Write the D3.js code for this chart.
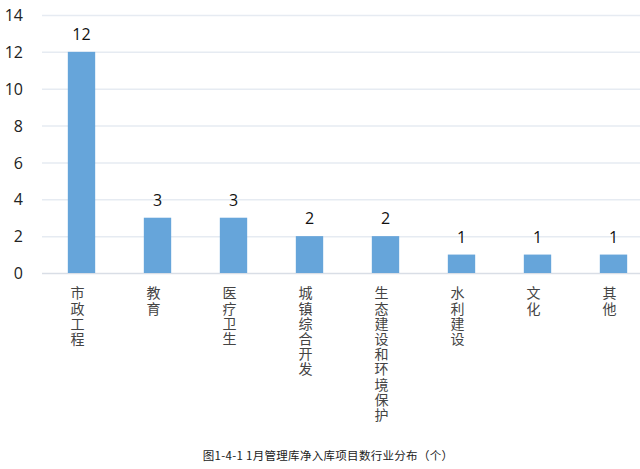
<!DOCTYPE html>
<html><head><meta charset="utf-8">
<script src="https://cdn.jsdelivr.net/npm/d3@7"></script>
<style>body{margin:0;background:#fff;}svg{display:block;}</style>
</head><body>
<svg id="c" width="640" height="469"></svg>
<script>
const categories = ["市政工程","教育","医疗卫生","城镇综合开发","生态建设和环境保护","水利建设","文化","其他"];
const values = [12,3,3,2,2,1,1,1];
const yTicks = [0,2,4,6,8,10,12,14];
const title = "图1-4-1  1月管理库净入库项目数行业分布（个）";

const svg = d3.select("#c");
const x = d3.scaleBand().domain(categories).range([43.5, 651.5]).paddingInner(0.64).paddingOuter(0.32);
const y = d3.scaleLinear().domain([0,14]).range([273, 15]);

// gridlines
svg.append("g").selectAll("line").data(yTicks).join("line")
  .attr("x1", 42).attr("x2", 640)
  .attr("y1", d => y(d)+0.5).attr("y2", d => y(d)+0.5)
  .attr("stroke", d => d===0 ? "#d9dee6" : "#e6ebf2").attr("stroke-width", 1.5);

// y axis labels
const yAxis = d3.axisLeft(y).tickValues(yTicks).tickSize(0).tickPadding(0);
const ga = svg.append("g").attr("transform","translate(23,0)").call(yAxis);
ga.select(".domain").remove();
ga.selectAll("text").attr("font-family","'Open Sans', sans-serif").attr("font-size",16).attr("fill","#222").attr("dy","0.35em");

// bars
svg.append("g").selectAll("rect").data(values).join("rect")
  .attr("x",(d,i)=>x(categories[i])).attr("width",x.bandwidth())
  .attr("y",d=>y(d)).attr("height",d=>y(0)-y(d))
  .attr("fill","#66a5da");

// value labels
svg.append("g").selectAll("text").data(values).join("text")
  .attr("x",(d,i)=>x(categories[i])+x.bandwidth()/2)
  .attr("y",d=>y(d)-12)
  .attr("text-anchor","middle")
  .attr("font-family","'Open Sans', sans-serif").attr("font-size",16).attr("fill","#111")
  .text(d=>d);

// category labels vertical
svg.append("g").selectAll("text").data(categories).join("text")
  .attr("x",c=>x(c)+x.bandwidth()/2 - 4)
  .attr("y",286)
  .attr("text-anchor","start")
  .style("writing-mode","vertical-rl")
  .style("text-orientation","upright")
  .attr("letter-spacing",1.2)
  .attr("font-family","'Noto Sans CJK SC', sans-serif").attr("font-size",14).attr("fill","#444")
  .text(c=>c);

// title
svg.append("text").attr("x",328).attr("y",460).attr("text-anchor","middle")
  .attr("font-family","'Noto Sans CJK SC', sans-serif").attr("font-size",11.5).attr("fill","#222")
  .attr("letter-spacing",0.3)
  .text(title);
</script>
</body></html>
